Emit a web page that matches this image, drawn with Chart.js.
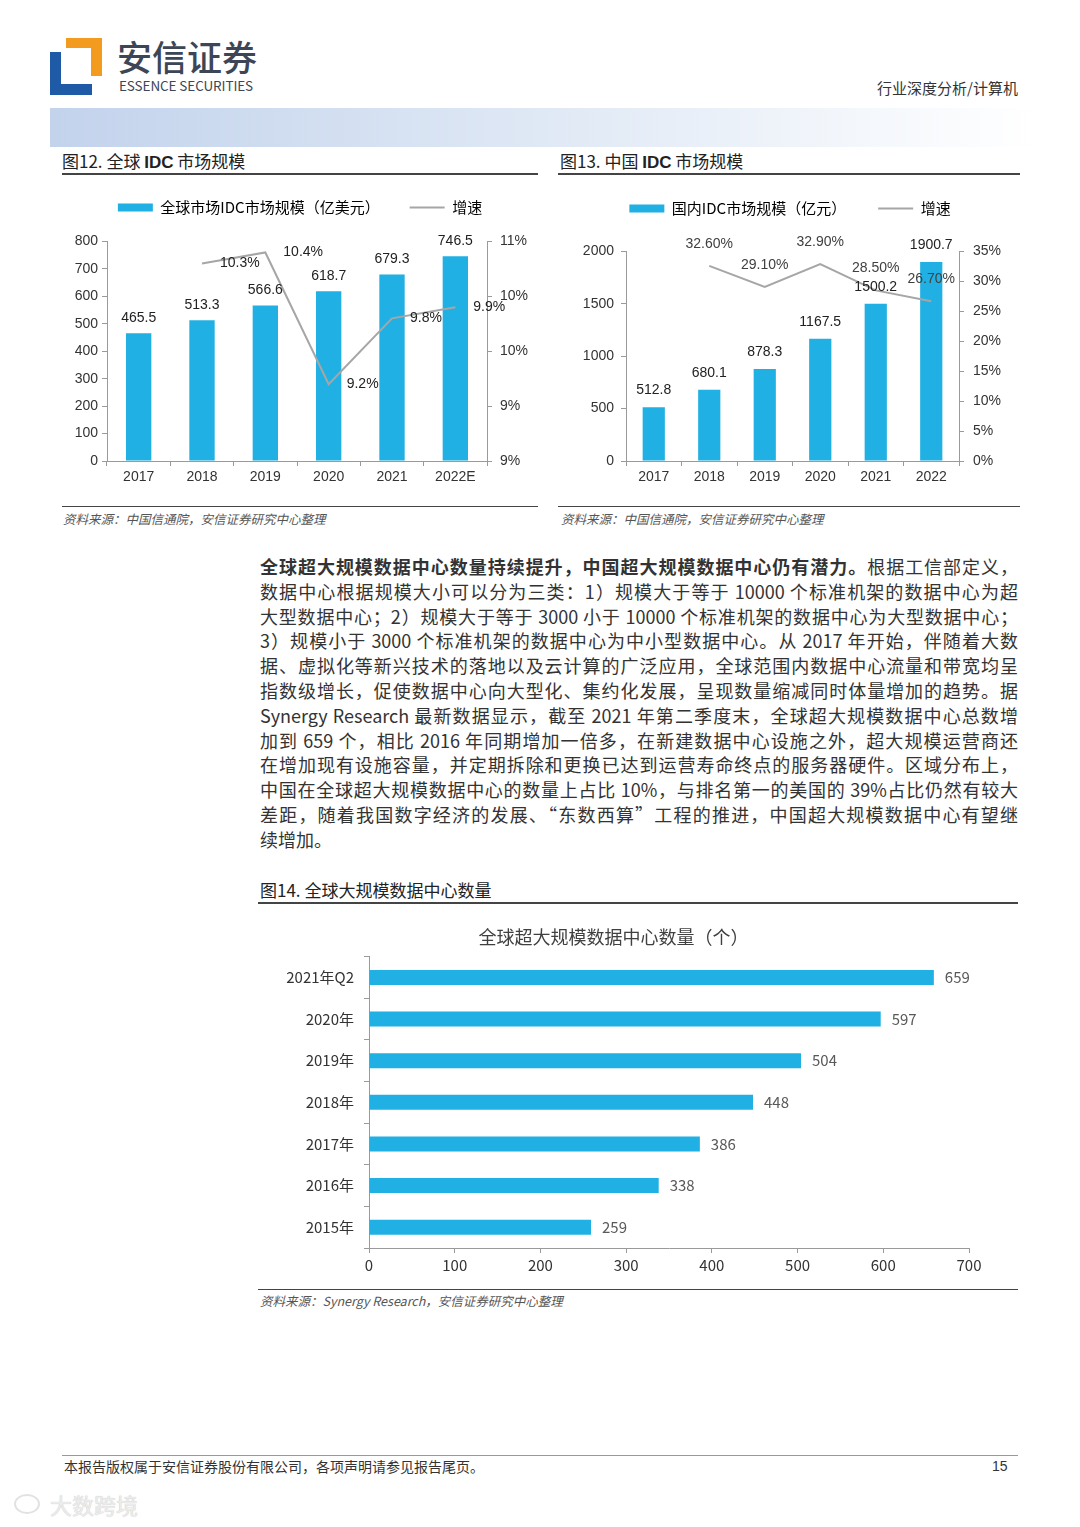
<!DOCTYPE html>
<html lang="zh-CN">
<head>
<meta charset="utf-8">
<title>全球 IDC 市场规模</title>
<script src="https://cdn.jsdelivr.net/npm/chart.js@4.4.0/dist/chart.umd.min.js"></script>
<style>
  html, body { margin: 0; padding: 0; background: #fff; }
  body { width: 1080px; height: 1527px; position: relative; overflow: hidden;
         font-family: "Noto Sans CJK SC", sans-serif; color: #333; }
  .box { position: absolute; }
  .rule { position: absolute; height: 0; border-top: 2px solid #444; }
  .thin { border-top: 1px solid #999; }
  .fig-title { position: absolute; font-size: 17px; line-height: 22px; color: #222; white-space: nowrap; }
  .fig-title b { font-family: "Liberation Sans", Arial, sans-serif; }
  .src { position: absolute; font-size: 12.5px; line-height: 16px; font-style: italic; color: #555; white-space: nowrap; }
  .body-text { position: absolute; left: 260px; top: 554px; width: 758px; font-size: 18px; color: #333; }
  .body-text div { height: 24.8px; line-height: 24.8px; overflow: hidden;
                   text-align: justify; text-align-last: justify; }
  .body-text div.last { text-align-last: left; }
  canvas { position: absolute; }
</style>
</head>
<body>

<!-- header -->
<div class="box" style="left:50px;top:52px;width:42px;height:43px;background:#1f5aa6;"></div>
<div class="box" style="left:61px;top:52px;width:31px;height:32px;background:#fff;"></div>
<div class="box" style="left:66px;top:38px;width:36px;height:38px;background:#f39b1f;"></div>
<div class="box" style="left:66px;top:48px;width:25px;height:28px;background:#fff;"></div>
<div class="box" style="left:117px;top:36px;font-size:35px;line-height:40px;font-weight:500;color:#3c4656;">安信证券</div>
<div class="box" style="left:119px;top:77px;font-size:13.5px;line-height:17px;color:#3c4656;letter-spacing:-0.1px;">ESSENCE SECURITIES</div>
<div class="box" style="right:62px;top:78px;font-size:15px;line-height:20px;color:#333;">行业深度分析/计算机</div>
<div class="box" style="left:50px;top:108px;width:985px;height:39px;background:linear-gradient(90deg,#c3d3ec 0%,#dce6f4 45%,#ffffff 100%);"></div>

<!-- figure 12 / 13 frames -->
<div class="fig-title" style="left:62px;top:150px;">图12. 全球 <b>IDC</b> 市场规模</div>
<div class="rule" style="left:62px;top:173px;width:476px;"></div>
<div class="rule" style="left:62px;top:506px;width:476px;border-top-width:1.5px;"></div>
<div class="src" style="left:63px;top:511px;">资料来源：中国信通院，安信证券研究中心整理</div>

<div class="fig-title" style="left:560px;top:150px;">图13. 中国 <b>IDC</b> 市场规模</div>
<div class="rule" style="left:558px;top:173px;width:462px;"></div>
<div class="rule" style="left:558px;top:506px;width:462px;border-top-width:1.5px;"></div>
<div class="src" style="left:561px;top:511px;">资料来源：中国信通院，安信证券研究中心整理</div>

<canvas id="globalIdc" width="490" height="321" style="left:55px;top:170px;"></canvas>
<canvas id="chinaIdc" width="470" height="322" style="left:555px;top:169px;"></canvas>

<!-- body text -->
<div class="body-text">
  <div><b>全球超大规模数据中心数量持续提升，中国超大规模数据中心仍有潜力。</b>根据工信部定义，</div>
  <div>数据中心根据规模大小可以分为三类：1）规模大于等于 10000 个标准机架的数据中心为超</div>
  <div>大型数据中心；2）规模大于等于 3000 小于 10000 个标准机架的数据中心为大型数据中心；</div>
  <div>3）规模小于 3000 个标准机架的数据中心为中小型数据中心。从 2017 年开始，伴随着大数</div>
  <div>据、虚拟化等新兴技术的落地以及云计算的广泛应用，全球范围内数据中心流量和带宽均呈</div>
  <div>指数级增长，促使数据中心向大型化、集约化发展，呈现数量缩减同时体量增加的趋势。据</div>
  <div>Synergy Research 最新数据显示，截至 2021 年第二季度末，全球超大规模数据中心总数增</div>
  <div>加到 659 个，相比 2016 年同期增加一倍多，在新建数据中心设施之外，超大规模运营商还</div>
  <div>在增加现有设施容量，并定期拆除和更换已达到运营寿命终点的服务器硬件。区域分布上，</div>
  <div>中国在全球超大规模数据中心的数量上占比 10%，与排名第一的美国的 39%占比仍然有较大</div>
  <div>差距，随着我国数字经济的发展、“东数西算”工程的推进，中国超大规模数据中心有望继</div>
  <div class="last">续增加。</div>
</div>

<!-- figure 14 -->
<div class="fig-title" style="left:260px;top:879px;">图14. 全球大规模数据中心数量</div>
<div class="rule" style="left:258px;top:902px;width:760px;"></div>
<div class="rule" style="left:258px;top:1289px;width:760px;border-top-width:1.5px;"></div>
<div class="src" style="left:260px;top:1293px;">资料来源：Synergy Research，安信证券研究中心整理</div>
<canvas id="hyperscale" width="762" height="369" style="left:258px;top:916px;"></canvas>

<!-- footer -->
<div class="rule thin" style="left:62px;top:1455px;width:956px;"></div>
<div class="box" style="left:64px;top:1457px;font-size:14px;line-height:19px;color:#333;">本报告版权属于安信证券股份有限公司，各项声明请参见报告尾页。</div>
<div class="box" style="left:992px;top:1457px;font-size:14px;line-height:19px;color:#333;font-family:'Liberation Sans',sans-serif;">15</div>
<div class="box" style="left:14px;top:1494px;width:22px;height:16px;border:2px solid #e2e2e2;border-radius:50%;"></div>
<div class="box" style="left:50px;top:1490px;font-size:22px;line-height:28px;color:#ececec;text-shadow:0 0 1px #bbb;">大数跨境</div>

<script>
// 图12 全球 IDC
const idcYears = ["2017", "2018", "2019", "2020", "2021", "2022E"];
const idcGlobal = [465.5, 513.3, 566.6, 618.7, 679.3, 746.5];
const idcGlobalGrowth = [null, 10.3, 10.4, 9.2, 9.8, 9.9];

// 图13 中国 IDC
const cnYears = ["2017", "2018", "2019", "2020", "2021", "2022"];
const idcChina = [512.8, 680.1, 878.3, 1167.5, 1500.2, 1900.7];
const idcChinaGrowth = [null, 32.6, 29.1, 32.9, 28.5, 26.7];

// 图14 超大规模数据中心
const hyperLabels = ["2021年Q2", "2020年", "2019年", "2018年", "2017年", "2016年", "2015年"];
const hyperCounts = [659, 597, 504, 448, 386, 338, 259];

const fontNum = "'Liberation Sans', Arial, sans-serif";
const fontCjk = "'Noto Sans CJK SC', sans-serif";
const fontNarrow = "'Liberation Sans Narrow', 'Noto Sans CJK SC', sans-serif";
const barBlue = "#21b0e3";
const lineGray = "#a6a6a6";
const axisGray = "#9a9a9a";

// legend: wide box for the bars, a short line for growth
const legendItems = (chart) => chart.data.datasets.map((ds, i) => ({
    text: ds.label,
    datasetIndex: i,
    hidden: false,
    fillStyle: ds.type === "line" ? "rgba(0,0,0,0)" : ds.backgroundColor,
    strokeStyle: ds.type === "line" ? ds.borderColor : ds.backgroundColor,
    lineWidth: ds.type === "line" ? 2 : 0,
    pointStyle: ds.type === "line" ? "line" : "rect",
}));

// extra space under the legend
const legendGap = (extra) => ({
    id: "legendGap",
    beforeInit(chart) {
        const fit = chart.legend.fit;
        chart.legend.fit = function () {
            fit.call(this);
            this.height += extra;
        };
    },
});

// numbers printed next to bars / points
const valueLabels = (cfg) => ({
    id: "valueLabels",
    afterDatasetsDraw(chart) {
        const ctx = chart.ctx;
        ctx.save();
        ctx.textBaseline = "middle";
        chart.data.datasets.forEach((ds, i) => {
            const st = ds.type === "line" ? cfg.line : cfg.bar;
            if (!st) return;
            ctx.font = st.font;
            ctx.fillStyle = st.color;
            ctx.textAlign = st.align;
            chart.getDatasetMeta(i).data.forEach((el, j) => {
                const v = ds.data[j];
                if (v == null) return;
                ctx.fillText(st.format(v), el.x + st.dx, el.y + st.dy);
            });
        });
        ctx.restore();
    },
});

const axisStyle = (size, pad, family) => ({
    grid: { drawOnChartArea: false, tickLength: 5, color: axisGray },
    border: { color: axisGray },
    ticks: { color: "#333", padding: pad, font: { family: family || fontNum, size: size } },
});

const comboChart = (id, labels, bars, growth, barLabel, o) => new Chart(document.getElementById(id), {
    type: "bar",
    data: {
        labels: labels,
        datasets: [
            { type: "bar", label: barLabel, data: bars, backgroundColor: barBlue,
              yAxisID: "y", order: 1, barPercentage: 0.4, categoryPercentage: 1 },
            { type: "line", label: "增速", data: growth, borderColor: lineGray, borderWidth: 2,
              pointRadius: 0, yAxisID: "y1", order: 0 },
        ],
    },
    options: {
        responsive: false,
        animation: false,
        plugins: {
            tooltip: { enabled: false },
            legend: {
                labels: {
                    usePointStyle: true, pointStyleWidth: 35, boxHeight: 8,
                    padding: o.legendPad, color: "#333",
                    font: { family: fontCjk, size: 15 },
                    generateLabels: legendItems,
                },
            },
        },
        scales: {
            x: Object.assign(axisStyle(14, 3), { afterFit: (s) => { s.height = 30; } }),
            y: Object.assign(axisStyle(14, o.leftPad), {
                position: "left", min: 0, max: o.leftMax,
                afterFit: (s) => { s.width = o.leftWidth; },
            }),
            y1: Object.assign(axisStyle(14, o.rightPad), {
                position: "right", min: o.rightMin, max: o.rightMax,
                afterFit: (s) => { s.width = o.rightWidth; },
            }),
        },
    },
    plugins: [legendGap(o.legendGap), valueLabels({
        bar: { font: "14px " + fontNum, color: "#222", align: "center", dx: 0, dy: o.barLabelDy, format: (v) => v.toFixed(1) },
        line: o.lineLabel,
    })],
});

const g = comboChart("globalIdc", idcYears, idcGlobal, idcGlobalGrowth, "全球市场IDC市场规模（亿美元）", {
    legendPad: 30, legendGap: 16.5, leftMax: 800, leftWidth: 52, leftPad: 4,
    rightMin: 8.5, rightMax: 10.5, rightWidth: 58, rightPad: 8, barLabelDy: -15,
    lineLabel: { font: "14px " + fontNum, color: "#222", align: "left", dx: 18, dy: 0, format: (v) => v.toFixed(1) + "%" },
});
g.options.scales.y.ticks.stepSize = 100;
g.options.scales.y.ticks.callback = (v) => String(v);
g.options.scales.y1.ticks.stepSize = 0.5;
g.options.scales.y1.ticks.callback = (v) => Math.round(v) + "%";
g.update();

const c = comboChart("chinaIdc", cnYears, idcChina, idcChinaGrowth, "国内IDC市场规模（亿元）", {
    legendPad: 32, legendGap: 25.5, leftMax: 2000, leftWidth: 71, leftPad: 7,
    rightMin: 0, rightMax: 35, rightWidth: 66, rightPad: 9, barLabelDy: -17,
    lineLabel: { font: "14px " + fontNum, color: "#404040", align: "center", dx: 0, dy: -22, format: (v) => v.toFixed(2) + "%" },
});
c.options.scales.y.ticks.stepSize = 500;
c.options.scales.y.ticks.callback = (v) => String(v);
c.options.scales.y1.ticks.stepSize = 5;
c.options.scales.y1.ticks.callback = (v) => v + "%";
c.update();

new Chart(document.getElementById("hyperscale"), {
    type: "bar",
    data: {
        labels: hyperLabels,
        datasets: [{ label: "全球超大规模数据中心数量", data: hyperCounts, backgroundColor: barBlue,
                     barPercentage: 0.36, categoryPercentage: 1 }],
    },
    options: {
        indexAxis: "y",
        responsive: false,
        animation: false,
        layout: { padding: { right: 51 } },
        plugins: {
            legend: { display: false },
            tooltip: { enabled: false },
            title: {
                display: true, text: "全球超大规模数据中心数量（个）", color: "#404040",
                font: { family: fontCjk, size: 18, weight: "normal" },
                padding: { top: 10, bottom: 9 },
            },
        },
        scales: {
            x: Object.assign(axisStyle(15, 3, fontNarrow), {
                min: 0, max: 700,
                afterFit: (s) => { s.height = 37; },
            }),
            y: Object.assign(axisStyle(15, 10, fontNarrow), {
                afterFit: (s) => { s.width = 111; },
            }),
        },
    },
    plugins: [valueLabels({
        bar: { font: "15px " + fontNarrow, color: "#595959", align: "left", dx: 11, dy: 0, format: (v) => String(v) },
    })],
});
</script>
</body>
</html>
